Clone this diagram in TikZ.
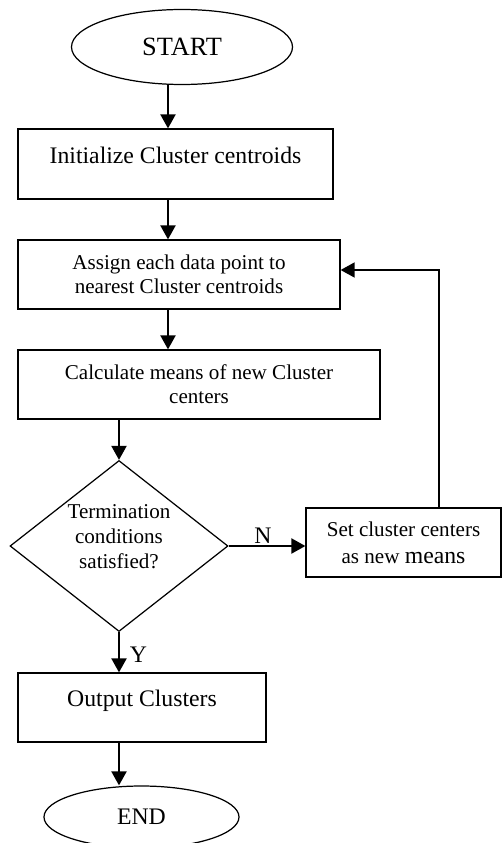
\documentclass[tikz,border=0pt]{standalone}
\usepackage{fontspec}
\setmainfont{Liberation Serif}
\usepackage{tikz}
\usetikzlibrary{positioning,arrows.meta,shapes.geometric}

\begin{document}
\begin{tikzpicture}[
            box/.style={draw, line width=0.7pt, align=center, inner sep=2pt, minimum height=1.38cm, font=\fontsize{12}{13.8}\selectfont},
            bigbox/.style={box, font=\fontsize{13.5}{15}\selectfont, text depth=10.5pt},
            term/.style={draw, ellipse, line width=0.7pt, inner sep=0pt},
            decision/.style={draw, diamond, aspect=1.27, line width=0.7pt, inner sep=-4pt, align=center, minimum width=4.36cm, minimum height=3.42cm, text depth=11pt, font=\fontsize{12}{14.2}\selectfont},
            arrow/.style={-{Triangle[length=0.28cm, width=0.3cm]}, line width=1.2pt},
            loopline/.style={-{Triangle[length=0.28cm, width=0.3cm]}, line width=0.9pt},
            label/.style={font=\fontsize{13.5}{15}\selectfont, inner sep=1pt}
        ]
        \useasboundingbox (0,0) rectangle (10.04,-16.86);

        % --- SPINES OF THE ARROWS ---
        \coordinate (spineA) at (3.36,0);
        \coordinate (spineB) at (2.38,0);
        \coordinate (back) at (8.78,-5.4);

        % --- NODES ---
        \node[term, minimum width=4.42cm, minimum height=1.5cm, font=\fontsize{15}{17}\selectfont] (start) at (3.64,-0.94) {START};
        \node[bigbox, minimum width=6.3cm, minimum height=1.4cm] (init) at (3.51,-3.28) {Initialize Cluster centroids};
        \node[box, minimum width=6.44cm] (assign) at (3.58,-5.49) {Assign each data point to\\nearest Cluster centroids};
        \node[box, minimum width=7.24cm] (calc) at (3.98,-7.69) {Calculate means of new Cluster\\centers};
        \node[decision] (cond) at (2.38,-10.92) {Termination\\conditions\\satisfied?};
        \node[box, minimum width=3.9cm, font=\fontsize{12}{15.3}\selectfont] (setc) at (8.07,-10.85) {Set cluster centers\\as new {\fontsize{13.5}{15.3}\selectfont means}};
        \node[bigbox, minimum width=4.96cm] (output) at (2.84,-14.15) {Output Clusters};
        \node[term, minimum width=3.9cm, minimum height=1.24cm, font=\fontsize{13.5}{15}\selectfont] (end) at (2.83,-16.34) {END};

        % --- CONNECTORS ---
        \draw[arrow] (start.south -| spineA) -- (init.north -| spineA);
        \draw[arrow] (init.south -| spineA) -- (assign.north -| spineA);
        \draw[arrow] (assign.south -| spineA) -- (calc.north -| spineA);
        \draw[arrow] (calc.south -| spineB) -- (cond.north);
        \draw[arrow] (cond.south) -- (output.north -| spineB)
        node[label, pos=0.55, right, xshift=0.16cm] {Y};
        \draw[arrow] (output.south -| spineB) -- (end.north -| spineB);
        \draw[arrow] (cond.east) -- (cond.east -| setc.west)
        node[label, midway, above, xshift=-0.08cm] {N};

        % --- LOOP BACK ---
        \draw[loopline] (setc.north -| back) -- (back) -- (back -| assign.east);

    \end{tikzpicture}
\end{document}
